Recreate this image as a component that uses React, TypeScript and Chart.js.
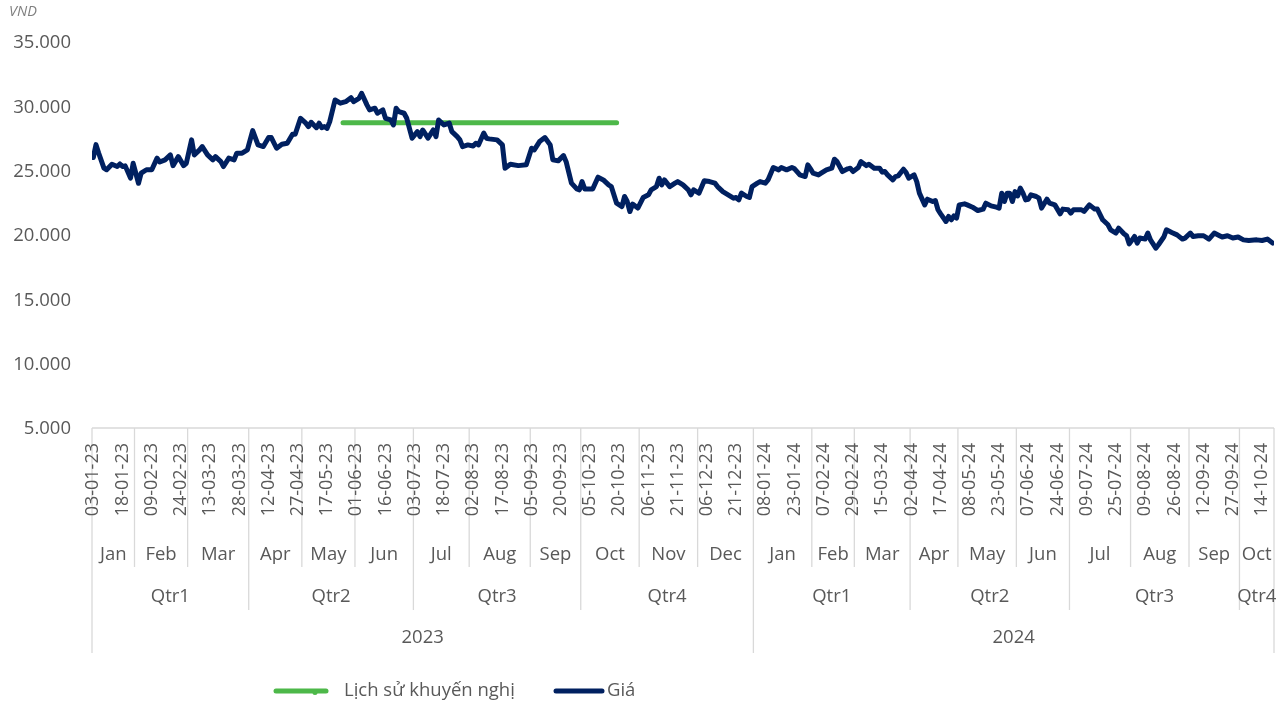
import React, { useEffect, useRef } from "react";
import { Chart, registerables } from "chart.js";

Chart.register(...registerables);

const FONT = "'Open Sans', 'Noto Sans', sans-serif";
const TEXT = "#595959";
const GRID = "#d9d9d9";
const NAVY = "#002060";
const GREEN = "#4db849";

// Trading-day index (0 = 03-01-23) and closing price (VND)
const priceDays = [
  0, 1, 2, 4, 5, 7, 9, 10, 11, 12, 14, 15, 17, 18, 20, 22, 24, 25, 27, 29,
  30, 32, 34, 35, 37, 38, 40, 41, 43, 45, 46, 48, 49, 51, 53, 54, 56, 58, 60, 62,
  64, 66, 67, 69, 71, 73, 75, 76, 78, 80, 81, 82, 84, 85, 86, 87, 88, 89, 91, 93,
  95, 97, 98, 100, 101, 103, 104, 106, 107, 109, 110, 112, 113, 114, 115, 117, 118, 120, 122, 123,
  124, 126, 128, 129, 130, 132, 134, 135, 137, 138, 139, 141, 143, 144, 145, 147, 148, 149, 152, 154,
  155, 157, 160, 163, 165, 166, 168, 170, 172, 173, 175, 177, 178, 180, 182, 183, 184, 185, 188, 190,
  192, 194, 195, 197, 199, 200, 201, 202, 203, 205, 207, 209, 210, 212, 213, 214, 215, 217, 219, 220,
  222, 224, 225, 226, 228, 230, 232, 234, 235, 237, 239, 241, 242, 243, 244, 246, 247, 248, 250, 251,
  253, 254, 256, 258, 259, 261, 263, 264, 266, 268, 269, 270, 271, 273, 274, 276, 278, 279, 280, 282,
  284, 285, 286, 288, 289, 291, 292, 294, 296, 297, 298, 299, 301, 302, 303, 305, 306, 307, 309, 310,
  311, 313, 314, 316, 317, 318, 319, 321, 322, 323, 324, 325, 326, 328, 329, 331, 333, 335, 336, 338,
  340, 341, 342, 343, 344, 345, 346, 347, 348, 349, 350, 351, 352, 353, 355, 356, 357, 359, 360, 362,
  364, 365, 367, 368, 369, 372, 373, 375, 377, 378, 380, 382, 383, 385, 386, 388, 389, 390, 392, 393,
  394, 396, 397, 398, 400, 401, 403, 404, 406, 408, 410, 411, 413, 414, 416, 418, 420, 422, 424, 425,
  427, 429, 431, 433, 435, 438, 440, 442, 444,
];
const priceValues = [
  26100, 27100, 26450, 25270, 25150, 25580, 25400, 25600, 25400, 25450, 24500, 25650, 24100, 24880, 25150, 25150, 26050, 25750, 25920, 26300,
  25470, 26170, 25470, 25650, 27470, 26300, 26690, 26950, 26300, 25920, 26170, 25780, 25400, 26050, 25920, 26440, 26440, 26690, 28190, 27080,
  26950, 27650, 27650, 26820, 27130, 27210, 27910, 27910, 29150, 28770, 28500, 28840, 28420, 28770, 28420, 28500, 28370, 28890, 30570, 30320,
  30440, 30750, 30440, 30700, 31090, 30190, 29800, 29930, 29540, 29800, 29150, 29020, 28630, 29930, 29670, 29540, 29150, 27600, 28110, 27720,
  28240, 27600, 28240, 27720, 29020, 28630, 28770, 28110, 27720, 27470, 26950, 27080, 27000, 27210, 27080, 28000, 27600, 27550, 27470, 27080,
  25270, 25580, 25470, 25530, 26820, 26690, 27340, 27650, 27080, 25920, 25840, 26250, 25780, 24110, 23660, 23590, 24230, 23660, 23660, 24570,
  24360, 23970, 23840, 22550, 22290, 23070, 22680, 21900, 22480, 22170, 22990, 23200, 23590, 23840, 24490, 23970, 24360, 23840, 24110, 24230,
  23970, 23590, 23200, 23590, 23330, 24290, 24230, 24110, 23840, 23450, 23200, 22940, 22990, 22810, 23330, 23070, 22990, 23840, 24110, 24230,
  24110, 24360, 25320, 25140, 25320, 25140, 25320, 25220, 24750, 24620, 25530, 25220, 24880, 24750, 24880, 25140, 25270, 25970, 25780, 25010,
  25220, 25270, 25010, 25320, 25780, 25470, 25580, 25270, 25270, 24960, 25010, 24750, 24360, 24620, 24670, 25190, 24930, 24490, 24750, 24230,
  23330, 22420, 22860, 22680, 22760, 22040, 21720, 21130, 21520, 21260, 21570, 21390, 22420, 22500, 22420, 22240, 21980, 22090, 22550, 22340,
  22240, 22170, 23330, 22680, 23330, 23330, 22680, 23450, 23120, 23720, 23330, 22810, 22860, 23200, 23070, 22940, 22170, 22860, 22550, 22420,
  21720, 22090, 22040, 21780, 22040, 22040, 21910, 22420, 22090, 22090, 21260, 20870, 20480, 20230, 20610, 20170, 20020, 19390, 19960, 19450,
  19840, 19760, 20230, 19700, 19060, 19320, 19920, 20480, 20270, 20090, 19760, 19840, 20230, 19960, 20020, 20020, 19760, 20230, 20020, 19920,
  20020, 19840, 19920, 19700, 19650, 19700, 19650, 19760, 19450,
];

// Recommendation history (target price held over a period)
const recDays = [94, 197];
const recValues = [28800, 28800];

const lastDay = 444;

const dateTickDays = [
  0, 11, 22, 33, 44, 55, 66, 77, 88, 99, 110, 121, 132, 143, 154, 165, 176, 187, 198, 209,
  220, 231, 242, 253, 264, 275, 286, 297, 308, 319, 330, 341, 352, 363, 374, 385, 396, 407, 418, 429, 440,
];
const dateTickLabels = [
  "03-01-23", "18-01-23", "09-02-23", "24-02-23", "13-03-23", "28-03-23", "12-04-23", "27-04-23", "17-05-23", "01-06-23",
  "16-06-23", "03-07-23", "18-07-23", "02-08-23", "17-08-23", "05-09-23", "20-09-23", "05-10-23", "20-10-23", "06-11-23",
  "21-11-23", "06-12-23", "21-12-23", "08-01-24", "23-01-24", "07-02-24", "29-02-24", "15-03-24", "02-04-24", "17-04-24",
  "08-05-24", "23-05-24", "07-06-24", "24-06-24", "09-07-24", "25-07-24", "09-08-24", "26-08-24", "12-09-24", "27-09-24", "14-10-24",
];

const monthLabels = [
  "Jan", "Feb", "Mar", "Apr", "May", "Jun", "Jul", "Aug", "Sep", "Oct", "Nov", "Dec",
  "Jan", "Feb", "Mar", "Apr", "May", "Jun", "Jul", "Aug", "Sep", "Oct",
];
const monthStarts = [0, 16, 36, 59, 79, 99, 121, 142, 165, 184, 206, 228, 249, 271, 287, 308, 326, 348, 368, 391, 413, 432];

const quarterLabels = ["Qtr1", "Qtr2", "Qtr3", "Qtr4", "Qtr1", "Qtr2", "Qtr3", "Qtr4"];
const quarterStarts = [0, 59, 121, 184, 249, 308, 368, 432];

const yearLabels = ["2023", "2024"];
const yearStarts = [0, 249];

const seriesNames = ["Lịch sử khuyến nghị", "Giá"];

const fmt = (v: number) => String(v).replace(/\B(?=(\d{3})+(?!\d))/g, ".");

const axisPlugin = {
  id: "multiLevelAxis",
  afterDraw(chart: any) {
    const { ctx, chartArea, scales } = chart;
    const xs = scales.x;
    const bottom = chartArea.bottom;
    const edge = (d: number) => xs.getPixelForValue(d - 0.5);
    const endEdge = edge(lastDay + 1);
    const monthBottom = bottom + 138;
    const qBottom = bottom + 181;
    const yBottom = bottom + 224;

    ctx.save();
    ctx.strokeStyle = GRID;
    ctx.lineWidth = 1.3;
    const vline = (x: number, y2: number) => {
      ctx.beginPath();
      ctx.moveTo(x, bottom - 1);
      ctx.lineTo(x, y2);
      ctx.stroke();
    };
    ctx.beginPath();
    ctx.moveTo(edge(0), bottom - 1);
    ctx.lineTo(endEdge, bottom - 1);
    ctx.stroke();
    monthStarts.forEach((s) => {
      if (!quarterStarts.includes(s)) vline(edge(s), monthBottom);
    });
    quarterStarts.forEach((s) => {
      if (!yearStarts.includes(s)) vline(edge(s), qBottom);
    });
    yearStarts.forEach((s) => vline(edge(s), yBottom));
    vline(endEdge, yBottom);

    ctx.fillStyle = TEXT;
    // rotated date labels
    ctx.font = `18px ${FONT}`;
    ctx.textAlign = "right";
    ctx.textBaseline = "middle";
    dateTickDays.forEach((d, i) => {
      const x = xs.getPixelForValue(d);
      ctx.save();
      ctx.translate(x, bottom + 14);
      ctx.rotate(-Math.PI / 2);
      ctx.fillText(dateTickLabels[i], 0, 0);
      ctx.restore();
    });

    ctx.font = `18.5px ${FONT}`;
    ctx.textAlign = "center";
    const groupLabels = (labels: string[], starts: number[], y: number) => {
      labels.forEach((lab, i) => {
        const a = edge(starts[i]);
        const b = i + 1 < starts.length ? edge(starts[i + 1]) : endEdge;
        ctx.fillText(lab, (a + b) / 2, y);
      });
    };
    groupLabels(monthLabels, monthStarts, bottom + 126);
    groupLabels(quarterLabels, quarterStarts, bottom + 168);
    groupLabels(yearLabels, yearStarts, bottom + 209);

    // legend
    const ly = 691;
    ctx.lineCap = "round";
    ctx.lineWidth = 5;
    ctx.strokeStyle = GREEN;
    ctx.beginPath();
    ctx.moveTo(276, ly);
    ctx.lineTo(326, ly);
    ctx.stroke();
    ctx.fillStyle = GREEN;
    ctx.beginPath();
    ctx.arc(315, ly + 1.5, 2.5, 0, Math.PI * 2);
    ctx.fill();
    ctx.strokeStyle = NAVY;
    ctx.beginPath();
    ctx.moveTo(556, ly);
    ctx.lineTo(602, ly);
    ctx.stroke();
    ctx.fillStyle = TEXT;
    ctx.textAlign = "left";
    ctx.font = `18.5px ${FONT}`;
    ctx.fillText(seriesNames[0], 344, ly);
    ctx.fillText(seriesNames[1], 607, ly);

    // unit label
    ctx.font = `italic 14.5px ${FONT}`;
    ctx.fillStyle = "#7f7f7f";
    ctx.fillText("VND", 9, 12);
    ctx.restore();
  },
};

export default function App() {
  const ref = useRef<HTMLCanvasElement | null>(null);

  useEffect(() => {
    document.body.style.margin = "0";
    const canvas = ref.current;
    if (!canvas) return;
    const chart = new Chart(canvas, {
      type: "line",
      data: {
        datasets: [
          {
            label: seriesNames[1],
            data: priceDays.map((d, i) => ({ x: d, y: priceValues[i] })),
            borderColor: NAVY,
            backgroundColor: NAVY,
            borderWidth: 5,
            borderJoinStyle: "round",
            borderCapStyle: "round",
            pointRadius: 0,
            tension: 0,
            order: 0,
          },
          {
            label: seriesNames[0],
            data: recDays.map((d, i) => ({ x: d, y: recValues[i] })),
            borderColor: GREEN,
            backgroundColor: GREEN,
            borderWidth: 5,
            borderCapStyle: "round",
            pointRadius: 0,
            tension: 0,
            order: 1,
          },
        ],
      },
      options: {
        responsive: false,
        animation: false,
        devicePixelRatio: 1,
        layout: { padding: { top: 43, right: 10, bottom: 278, left: 0 } },
        plugins: { legend: { display: false }, tooltip: { enabled: false } },
        scales: {
          x: { type: "linear", min: -0.5, max: lastDay + 0.5, display: false },
          y: {
            min: 5000,
            max: 35000,
            grid: { display: false, drawTicks: false },
            border: { display: false },
            afterFit: (s: any) => {
              s.width = 92;
            },
            ticks: {
              stepSize: 5000,
              padding: 21,
              color: TEXT,
              font: { family: FONT, size: 18.5 },
              callback: (v: any) => fmt(Number(v)),
            },
          },
        },
      },
      plugins: [axisPlugin],
    } as any);
    return () => chart.destroy();
  }, []);

  return (
    <div style={{ position: "absolute", left: 0, top: 0, width: 1284, height: 707 }}>
      <canvas ref={ref} width={1284} height={707} style={{ display: "block" }} />
    </div>
  );
}
